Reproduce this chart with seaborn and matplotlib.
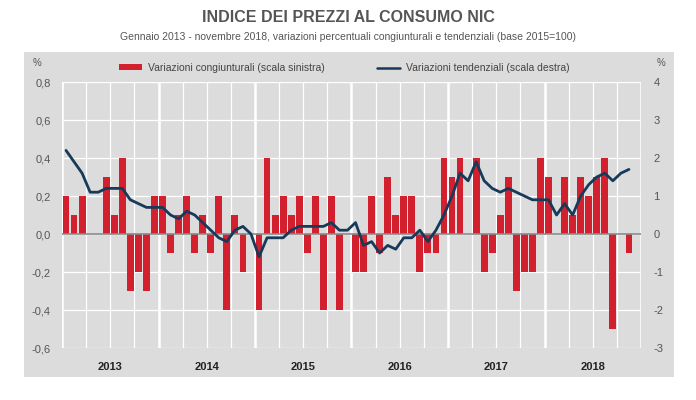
import matplotlib
matplotlib.use("Agg")
import matplotlib.pyplot as plt
import matplotlib.transforms as mtransforms
import seaborn as sns
import numpy as np
import pandas as pd
from matplotlib.patches import Rectangle, Patch
from matplotlib.lines import Line2D

# ---------------- data ----------------
years = ["2013", "2014", "2015", "2016", "2017", "2018"]
congiunturali = [
    0.2, 0.1, 0.2, 0.0, 0.0, 0.3, 0.1, 0.4, -0.3, -0.2, -0.3, 0.2,   # 2013
    0.2, -0.1, 0.1, 0.2, -0.1, 0.1, -0.1, 0.2, -0.4, 0.1, -0.2, 0.0,  # 2014
    -0.4, 0.4, 0.1, 0.2, 0.1, 0.2, -0.1, 0.2, -0.4, 0.2, -0.4, 0.0,  # 2015
    -0.2, -0.2, 0.2, -0.1, 0.3, 0.1, 0.2, 0.2, -0.2, -0.1, -0.1, 0.4,  # 2016
    0.3, 0.4, 0.0, 0.4, -0.2, -0.1, 0.1, 0.3, -0.3, -0.2, -0.2, 0.4,  # 2017
    0.3, 0.0, 0.3, 0.1, 0.3, 0.2, 0.3, 0.4, -0.5, 0.0, -0.1,          # 2018
]
tendenziali = [
    2.2, 1.9, 1.6, 1.1, 1.1, 1.2, 1.2, 1.2, 0.9, 0.8, 0.7, 0.7,
    0.7, 0.5, 0.4, 0.6, 0.5, 0.3, 0.1, -0.1, -0.2, 0.1, 0.2, 0.0,
    -0.6, -0.1, -0.1, -0.1, 0.1, 0.2, 0.2, 0.2, 0.2, 0.3, 0.1, 0.1,
    0.3, -0.3, -0.2, -0.5, -0.3, -0.4, -0.1, -0.1, 0.1, -0.2, 0.1, 0.5,
    1.0, 1.6, 1.4, 1.9, 1.4, 1.2, 1.1, 1.2, 1.1, 1.0, 0.9, 0.9,
    0.9, 0.5, 0.8, 0.5, 1.0, 1.3, 1.5, 1.6, 1.4, 1.6, 1.7,
]
left_ticks = [-0.6, -0.4, -0.2, 0.0, 0.2, 0.4, 0.6, 0.8]
left_labels = ["-0,6", "-0,4", "-0,2", "0,0", "0,2", "0,4", "0,6", "0,8"]
right_ticks = [-3, -2, -1, 0, 1, 2, 3, 4]
right_labels = ["-3", "-2", "-1", "0", "1", "2", "3", "4"]

label_bar = "Variazioni congiunturali (scala sinistra)"
label_line = "Variazioni tendenziali (scala destra)"
title = "INDICE DEI PREZZI AL CONSUMO NIC"
subtitle = "Gennaio 2013 - novembre 2018, variazioni percentuali congiunturali e tendenziali (base 2015=100)"

df = pd.DataFrame({
    "mese": np.arange(len(congiunturali)),
    "cong": congiunturali,
    "tend": tendenziali,
})

# ---------------- style ----------------
sns.set_theme(style="white")
plt.rcParams["font.family"] = ["Liberation Sans", "DejaVu Sans"]

BG = "#dcdcdc"
RED = "#d2202f"
NAVY = "#17395a"
TXT = "#555555"

fig = plt.figure(figsize=(6.96, 4.0), dpi=100)
fig.patches.append(Rectangle((24/696, 1-377/400), 650/696, (377-52)/400,
                             transform=fig.transFigure, facecolor=BG,
                             edgecolor="none", zorder=-10))

ax = fig.add_axes([62/696, 1-348/400, 579/696, 266/400])
ax.set_facecolor(BG)

n_months = 72
sns.barplot(data=df, x="mese", y="cong", color=RED, saturation=1,
            width=0.85, ax=ax, label=label_bar, zorder=3, linewidth=0)

ax.set_xlim(-0.5, n_months - 0.5)
ax.set_ylim(-0.6, 0.8)

# grid
ax.set_xticks(np.arange(-0.5, n_months, 3))
ax.set_xticklabels([])
ax.tick_params(axis="x", which="both", length=0)
ax.set_yticks(left_ticks)
ax.set_yticklabels(left_labels)
ax.tick_params(axis="y", length=0, pad=8, labelsize=8, labelcolor=TXT)
ax.grid(True, color="white", linewidth=0.9, zorder=0)
ax.set_axisbelow(True)
for k in range(0, n_months + 1, 12):
    ax.axvline(k - 0.5, color="white", linewidth=1.8, zorder=1)
ax.axhline(0, color="#8a8a8a", linewidth=1.2, zorder=4)
for s in ax.spines.values():
    s.set_visible(False)
ax.set_xlabel("")
ax.set_ylabel("")

# year labels
trans = mtransforms.blended_transform_factory(ax.transData, ax.transAxes)
for i, yr in enumerate(years):
    ax.text(12 * i + 5.5, -19/266, yr, transform=trans, ha="center",
            va="center", fontsize=8, fontweight="bold", color="#222222")

# right axis line
ax2 = ax.twinx()
sns.lineplot(data=df, x="mese", y="tend", color=NAVY, linewidth=2.0,
             ax=ax2, label=label_line, zorder=5)
ax2.set_ylim(-3, 4)
ax2.set_yticks(right_ticks)
ax2.set_yticklabels(right_labels)
ax2.tick_params(axis="y", length=0, pad=9, labelsize=8, labelcolor=TXT)
ax2.set_xlim(-0.5, n_months - 0.5)
ax2.set_ylabel("")
for s in ax2.spines.values():
    s.set_visible(False)
if ax.get_legend():
    ax.get_legend().remove()
if ax2.get_legend():
    ax2.get_legend().remove()

handles = [Patch(facecolor=RED, edgecolor="none"),
           Line2D([0], [0], color=NAVY, linewidth=1.8)]
fig.legend(handles, [label_bar, label_line], loc="center",
           bbox_to_anchor=(344/696, 1-68/400), ncol=2, frameon=False,
           fontsize=7.5, labelcolor="#444444", columnspacing=5.0,
           handlelength=2.2, handleheight=0.5, handletextpad=0.6)

fig.text(37/696, 1-63/400, "%", ha="center", va="center", fontsize=7, color=TXT)
fig.text(661/696, 1-63/400, "%", ha="center", va="center", fontsize=7, color=TXT)

fig.text(0.5, 1-18/400, title, ha="center", va="center", fontsize=11.5,
         fontweight="bold", color="#555555")
fig.text(0.5, 1-37/400, subtitle, ha="center", va="center", fontsize=7.5,
         color="#555555")

fig.savefig("out.png", dpi=100)
